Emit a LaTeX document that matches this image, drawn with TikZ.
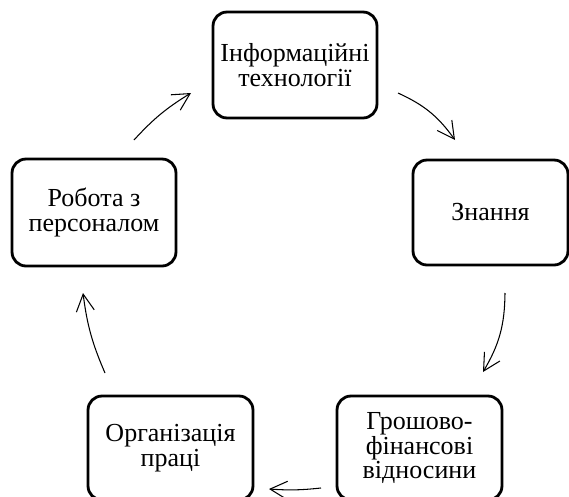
\documentclass[tikz,border=0pt]{standalone}
\usepackage{fontspec}
\setmainfont{Liberation Serif}
\usetikzlibrary{arrows.meta}
\usetikzlibrary{positioning}
\tikzset{box/.style = {draw, line width = 1.6pt, rounded corners = 0.28cm,
                       align = center, inner sep = 0,
                       font = \fontsize{14.8}{14.2}\selectfont}}
\tikzset{flow/.style = {line width = 0.6pt,
                        -{Straight Barb[length = 0.34cm, width = 0.36cm]}}}

\begin{document}
\begin{tikzpicture}[x = 0.02cm, y = -0.02cm]
      \useasboundingbox (0, 0) rectangle (569, 497);

      \node [box, minimum width = 3.28cm, minimum height = 2.12cm] (info) at (295, 65)
            {Інформаційні\\технології};
      \node [box, minimum width = 3.1cm, minimum height = 2.1cm] (zn) at (490.5, 212.5)
            {Знання};
      \node [box, minimum width = 3.3cm, minimum height = 2.08cm] (money) at (419.5, 448)
            {Грошово-\\фінансові\\відносини};
      \node [box, minimum width = 3.3cm, minimum height = 2.08cm] (org) at (170.5, 448)
            {Організація\\праці};
      \node [box, minimum width = 3.28cm, minimum height = 2.14cm] (staff) at (94, 212.5)
            {Робота з\\персоналом};

      \coordinate (info-out) at (398, 93);
      \coordinate (zn-in) at (455, 140);
      \coordinate (zn-out) at (505, 293);
      \coordinate (money-in) at (483, 372);
      \coordinate (money-out) at (321, 488);
      \coordinate (org-in) at (269, 489);
      \coordinate (org-out) at (105, 373);
      \coordinate (staff-in) at (83, 293);
      \coordinate (staff-out) at (134, 140);
      \coordinate (info-in) at (191, 93);

      \draw [flow] (info-out) to [bend left = 15] (zn-in);
      \draw [flow] (zn-out) to [bend left = 15] (money-in);
      \draw [flow] (money-out) to [bend left = 5] (org-in);
      \draw [flow] (org-out) to [bend left = 8] (staff-in);
      \draw [flow] (staff-out) to [bend left = 8] (info-in);
    \end{tikzpicture}
\end{document}
